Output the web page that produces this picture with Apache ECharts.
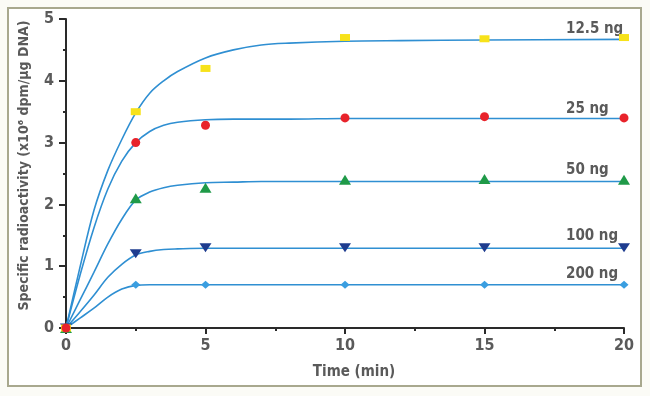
<!DOCTYPE html>
<html>
<head>
<meta charset="utf-8">
<script src="https://cdn.jsdelivr.net/npm/echarts@6/dist/echarts.min.js"></script>
<style>
  html, body { margin: 0; padding: 0; background: #fbfbf6; }
  #main { width: 650px; height: 396px; }
</style>
</head>
<body>
<div id="main"></div>
<script>
// measured points
var names = ['12.5 ng', '25 ng', '50 ng', '100 ng', '200 ng'];
var pointTimes = [0, 2.5, 5, 10, 15, 20];
var pts125 = [0, 3.5, 4.2, 4.7, 4.68, 4.7];
var pts25 = [0, 3.0, 3.28, 3.4, 3.42, 3.4];
var pts50 = [0, 2.1, 2.27, 2.4, 2.41, 2.4];
var pts100 = [0, 1.2, 1.3, 1.3, 1.3, 1.3];
var pts200 = [0, 0.7, 0.7, 0.7, 0.7, 0.7];

// fitted curves
var curveTimes = [0, 0.5, 1, 1.5, 2, 2.5, 3, 3.5, 4, 5, 6, 7, 8, 10, 12, 15, 20];
var fit125 = [0, 0.98, 1.9, 2.55, 3.05, 3.48, 3.8, 4.0, 4.15, 4.37, 4.5, 4.58, 4.61, 4.64, 4.65, 4.66, 4.67];
var fit25 = [0, 0.85, 1.62, 2.25, 2.7, 3.0, 3.18, 3.28, 3.33, 3.37, 3.38, 3.38, 3.38, 3.39, 3.39, 3.39, 3.39];
var fit50 = [0, 0.45, 0.9, 1.36, 1.76, 2.07, 2.2, 2.27, 2.31, 2.35, 2.36, 2.37, 2.37, 2.37, 2.37, 2.37, 2.37];
var fit100 = [0, 0.26, 0.53, 0.82, 1.03, 1.18, 1.24, 1.27, 1.28, 1.29, 1.29, 1.29, 1.29, 1.29, 1.29, 1.29, 1.29];
var fit200 = [0, 0.16, 0.32, 0.5, 0.63, 0.69, 0.7, 0.7, 0.7, 0.7, 0.7, 0.7, 0.7, 0.7, 0.7, 0.7, 0.7];

var ptsAll = [pts125, pts25, pts50, pts100, pts200];
var fitAll = [fit125, fit25, fit50, fit100, fit200];
var symbols = ['rect', 'circle', 'triangle', 'triangle', 'diamond'];
var symSizes = [[10, 7], 9, [12, 10], [12, 9], [9, 8]];
var symRotate = [0, 0, 0, 180, 0];
var colors = ['#f7e21a', '#e8232b', '#1f9a48', '#1e3c8f', '#3a9ee0'];
var lineColor = '#2f8fd2';
var fontFam = '"Liberation Sans Narrow", "DejaVu Sans Condensed", Arial, sans-serif';

function pairs(xs, ys) {
    var out = [];
    for (var i = 0; i < xs.length; i++) out.push([xs[i], ys[i]]);
    return out;
}

var series = [];
// curves first
for (var i = 0; i < names.length; i++) {
    series.push({
        name: names[i] + ' fit',
        type: 'line',
        smooth: 0.35,
        showSymbol: false,
        silent: true,
        lineStyle: {color: lineColor, width: 1.6},
        data: pairs(curveTimes, fitAll[i]),
        z: 2
    });
}
// points on top, 200 first so red ends on top at origin
for (var j = names.length - 1; j >= 0; j--) {
    series.push({
        name: names[j],
        type: 'scatter',
        symbol: symbols[j],
        symbolSize: symSizes[j],
        symbolRotate: symRotate[j],
        itemStyle: {color: colors[j], opacity: 1},
        data: pairs(pointTimes, ptsAll[j]),
        z: 3 + (j === 1 ? 2 : 0)
    });
}

// label positions (pixels) for the series names
var labelY = [30, 110, 171, 237, 275];
var graphics = [{
    type: 'rect',
    shape: {x: 8, y: 8, width: 633, height: 378},
    style: {fill: '#ffffff', stroke: '#a8a88e', lineWidth: 2},
    z: -10
}];
for (var k = 0; k < names.length; k++) {
    graphics.push({
        type: 'text',
        left: 566,
        top: labelY[k] - 8,
        style: {
            text: names[k],
            fill: '#5a5a5a',
            font: 'bold 15px ' + fontFam
        }
    });
}

var chart = echarts.init(document.getElementById('main'));
var option = {
    backgroundColor: '#fbfbf6',
    animation: false,
    grid: {left: 66, right: 26, top: 19, bottom: 68},
    xAxis: {
        type: 'value',
        min: 0,
        max: 20,
        interval: 5,
        name: 'Time (min)',
        nameLocation: 'middle',
        nameGap: 37,
        nameTextStyle: {color: '#5a5a5a', fontSize: 15, fontWeight: 'bold', fontFamily: fontFam, padding: [0, 0, 0, 18]},
        axisLine: {lineStyle: {color: '#2a2a2a', width: 2}},
        axisTick: {show: true, length: 6, lineStyle: {color: '#2a2a2a', width: 2}},
        minorTick: {show: true, splitNumber: 2, length: 3, lineStyle: {color: '#2a2a2a', width: 2}},
        axisLabel: {color: '#5a5a5a', fontSize: 16, fontWeight: 'bold', fontFamily: fontFam, margin: 10},
        splitLine: {show: false}
    },
    yAxis: {
        type: 'value',
        min: 0,
        max: 5,
        interval: 1,
        name: 'Specific radioactivity (x10\u2076 dpm/\u00b5g DNA)',
        nameLocation: 'middle',
        nameGap: 35,
        nameTextStyle: {color: '#5a5a5a', fontSize: 14, fontWeight: 'bold', fontFamily: fontFam, padding: [0, 0, 0, 16]},
        axisLine: {show: true, lineStyle: {color: '#2a2a2a', width: 2}},
        axisTick: {show: true, length: 7, lineStyle: {color: '#2a2a2a', width: 2}},
        minorTick: {show: true, splitNumber: 2, length: 3, lineStyle: {color: '#2a2a2a', width: 2}},
        axisLabel: {color: '#5a5a5a', fontSize: 16, fontWeight: 'bold', fontFamily: fontFam, margin: 12},
        splitLine: {show: false}
    },
    graphic: graphics,
    series: series
};
chart.setOption(option);
</script>
</body>
</html>
